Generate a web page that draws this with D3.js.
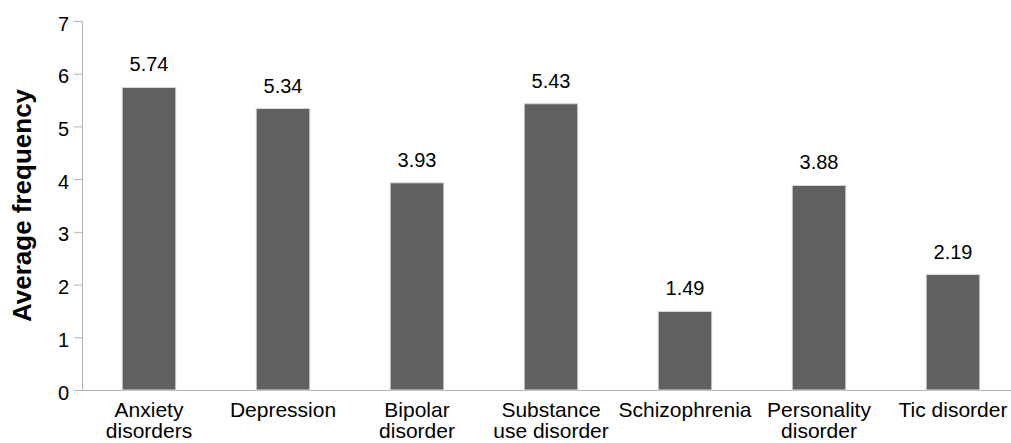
<!DOCTYPE html>
<html>
<head>
<meta charset="utf-8">
<script src="https://cdn.jsdelivr.net/npm/d3@7"></script>
<style>
  body { margin: 0; background: #fff; }
  svg { display: block; font-family: "Liberation Sans", Arial, sans-serif; }
</style>
</head>
<body>
<div id="chart"></div>
<script>
// chart values
const categories = ["Anxiety disorders", "Depression", "Bipolar disorder", "Substance use disorder",
  "Schizophrenia", "Personality disorder", "Tic disorder"];
const categoryLines = [["Anxiety", "disorders"], ["Depression"], ["Bipolar", "disorder"],
  ["Substance", "use disorder"], ["Schizophrenia"], ["Personality", "disorder"], ["Tic disorder"]];
const values = [5.74, 5.34, 3.93, 5.43, 1.49, 3.88, 2.19];
const yTicks = [0, 1, 2, 3, 4, 5, 6, 7];

const svgWidth = 1011, svgHeight = 443;
const plotLeft = 82, plotRight = 1020, plotTop = 21, plotBottom = 390;

let svg = d3.select("#chart").append("svg")
    .attr("width", svgWidth)
    .attr("height", svgHeight);

let x = d3.scaleBand()
    .domain(categories)
    .range([plotLeft, plotRight])
    .paddingInner(0.6)
    .paddingOuter(0.3);

let y = d3.scaleLinear()
    .domain([0, 7])
    .range([plotBottom, plotTop]);

// y axis
let yAxis = svg.append("g")
    .attr("transform", `translate(${plotLeft},0)`)
    .call(d3.axisLeft(y).tickValues(yTicks).tickFormat(d3.format("d"))
        .tickSize(8).tickPadding(5).tickSizeOuter(0));
yAxis.select(".domain").attr("stroke", "#b3b3b3");
yAxis.selectAll(".tick line").attr("stroke", "#b3b3b3");
yAxis.selectAll(".tick text")
    .attr("fill", "#000")
    .attr("dy", "0.45em")
    .style("font-size", "20px");

// x axis line only
let xAxis = svg.append("g")
    .attr("transform", `translate(0,${plotBottom})`)
    .call(d3.axisBottom(x).tickSize(0).tickSizeOuter(0).tickFormat(""));
xAxis.select(".domain").attr("stroke", "#b3b3b3");

// bars
svg.append("g").selectAll("rect")
    .data(values)
    .enter()
    .append("rect")
    .attr("x", (d, i) => x(categories[i]))
    .attr("y", d => y(d))
    .attr("width", x.bandwidth())
    .attr("height", d => y(0) - y(d))
    .attr("fill", "#606060")
    .attr("stroke", "#d9d9d9")
    .attr("stroke-width", 1);

// value labels
svg.append("g").selectAll("text")
    .data(values)
    .enter()
    .append("text")
    .attr("x", (d, i) => x(categories[i]) + x.bandwidth() / 2)
    .attr("y", d => y(d) - 16)
    .attr("text-anchor", "middle")
    .style("font-size", "20px")
    .text(d => d.toFixed(2));

// category labels
let cats = svg.append("g").selectAll("text")
    .data(categoryLines)
    .enter()
    .append("text")
    .attr("text-anchor", "middle")
    .style("font-size", "21px");
cats.selectAll("tspan")
    .data((d, i) => d.map(line => ({line: line, i: i})))
    .enter()
    .append("tspan")
    .attr("x", d => x(categories[d.i]) + x.bandwidth() / 2)
    .attr("y", (d, j) => plotBottom + 27 + j * 21)
    .text(d => d.line);

// y title
svg.append("text")
    .attr("transform", `translate(31,${(plotTop + plotBottom) / 2}) rotate(-90)`)
    .attr("text-anchor", "middle")
    .style("font-size", "26px")
    .style("font-weight", "bold")
    .text("Average frequency");
</script>
</body>
</html>
